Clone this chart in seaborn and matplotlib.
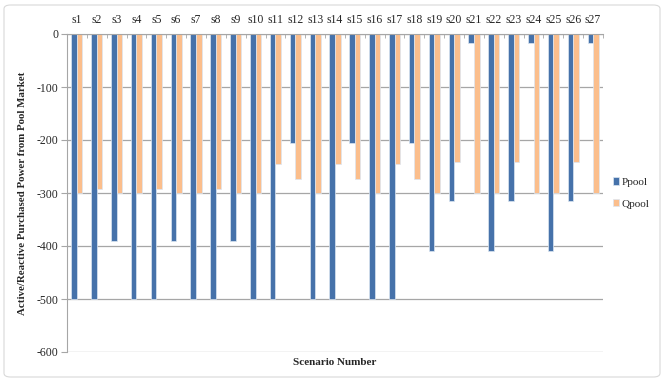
import seaborn as sns
import matplotlib.pyplot as plt
import numpy as np
import pandas as pd
from matplotlib.patches import FancyBboxPatch

scenarios = ["s%d" % i for i in range(1, 28)]
ppool = [-500, -500, -390, -500, -500, -390, -500, -500, -390, -500, -500, -206, -500, -500,
         -206, -500, -500, -206, -410, -316, -17, -410, -316, -17, -410, -316, -17]
qpool = [-300, -293, -300, -300, -293, -300, -300, -293, -300, -300, -246, -273, -300, -246,
         -273, -300, -246, -273, -300, -241, -300, -300, -241, -300, -300, -241, -300]

df = pd.DataFrame({
    "scenario": scenarios * 2,
    "value": ppool + qpool,
    "series": ["Ppool"] * len(ppool) + ["Qpool"] * len(qpool),
})

sns.set_style("white")
plt.rcParams["font.family"] = ["Liberation Serif", "DejaVu Serif"]

fig = plt.figure(figsize=(6.64, 3.81), dpi=100)
ax = fig.add_axes([67 / 664, 1 - 352 / 381, (603 - 67) / 664, (352 - 34) / 381])

sns.barplot(data=df, x="scenario", y="value", hue="series",
            palette={"Ppool": "#4672AA", "Qpool": "#FBBE8C"}, saturation=1,
            width=0.56, edgecolor="#dce6f2", linewidth=0.5, ax=ax, legend=True)

ax.set_ylim(-600, 0)
ax.set_xlim(-0.5, 26.5)
ax.set_yticks(np.arange(-600, 1, 100))
ax.set_yticklabels([str(v) for v in range(-600, 1, 100)], fontsize=8.5)
ax.yaxis.grid(True, color="#a6a6a6", linewidth=0.9)
ax.set_axisbelow(True)

ax.xaxis.tick_top()
ax.tick_params(axis="x", which="major", length=0, labelsize=8.5, pad=6)
ax.set_xticks(np.arange(-0.5, 27, 1), minor=True)
ax.tick_params(axis="x", which="minor", length=3, direction="in", color="#a6a6a6", top=True)
ax.tick_params(axis="y", length=4, color="#a6a6a6", left=True, pad=2)

for s in ["right", "bottom"]:
    ax.spines[s].set_visible(False)
ax.spines["left"].set_color("#a6a6a6")
ax.spines["top"].set_color("#a6a6a6")

ax.set_xlabel("Scenario Number", fontweight="bold", fontsize=8)
ax.xaxis.set_label_position("bottom")
ax.xaxis.labelpad = 4
ax.set_ylabel("Active/Reactive Purchased Power from Pool Market", fontweight="bold", fontsize=7.8)
ax.yaxis.labelpad = 7

leg = ax.legend(loc="center left", bbox_to_anchor=(1.0, 0.5), frameon=False,
                fontsize=8, handlelength=0.5, handleheight=0.6, handletextpad=0.3,
                labelspacing=1.1)

border = FancyBboxPatch((4 / 664, 4 / 381), 656 / 664, 372 / 381,
                        boxstyle="round,pad=0,rounding_size=0.01",
                        transform=fig.transFigure, fill=False,
                        edgecolor="#d9d9d9", linewidth=0.8)
fig.patches.append(border)

fig.savefig("out.png", dpi=100)
